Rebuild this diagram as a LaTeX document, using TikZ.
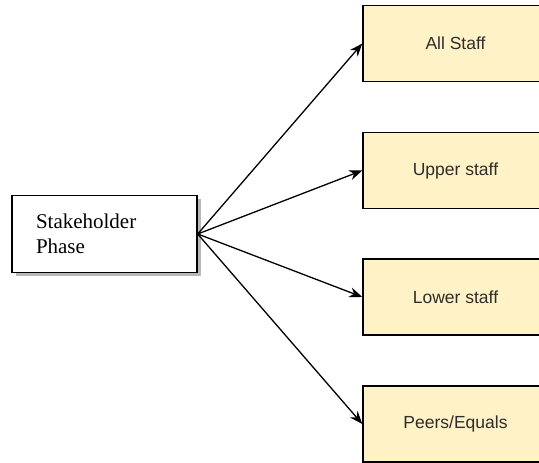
\documentclass[tikz,border=0pt]{standalone}
\usepackage{fontspec}
\newfontfamily\serifface{Liberation Serif}
\newfontfamily\sansface{Liberation Sans}
\usepackage{tikz}
\usetikzlibrary{shadows}
\usetikzlibrary{arrows.meta}
\definecolor{staffyellow}{RGB}{255,242,198}
\definecolor{stafftext}{RGB}{45,45,45}
\tikzset{
    stakebox/.style = {rectangle, line width=1.4pt, draw=black, fill=white,
        minimum height=77pt, text width=137pt, inner xsep=24pt, align=left,
        font=\serifface\fontsize{21}{25}\selectfont,
        drop shadow={shadow xshift=4pt, shadow yshift=-4pt, fill=black!28, opacity=1}},
    staffbox/.style = {rectangle, line width=1.4pt, draw=black, fill=staffyellow,
        minimum width=185pt, minimum height=76pt, align=center, text=stafftext,
        font=\sansface\fontsize{17.5}{21}\selectfont},
    edgen/.style = {-{Stealth[length=13pt,width=10pt]},line width=1.3pt}
}
\begin{document}
\begin{tikzpicture}[x=1pt,y=1pt]
\useasboundingbox (0,0) rectangle (539,463);
\clip (0,0) rectangle (539,463);
%
\node[stakebox] at (104.5,229) (stake) {Stakeholder\\Phase};
\node[staffbox] at (455.5,419.5) (all) {All Staff};
\node[staffbox] at (455.5,292.5) (upper) {Upper staff};
\node[staffbox] at (455.5,166) (lower) {Lower staff};
\node[staffbox] at (455.5,39) (peers) {Peers/Equals};
%
\draw[edgen] (stake.east) -- (all.west);
\draw[edgen] (stake.east) -- (upper.west);
\draw[edgen] (stake.east) -- (lower.west);
\draw[edgen] (stake.east) -- (peers.west);
\end{tikzpicture}
\end{document}
